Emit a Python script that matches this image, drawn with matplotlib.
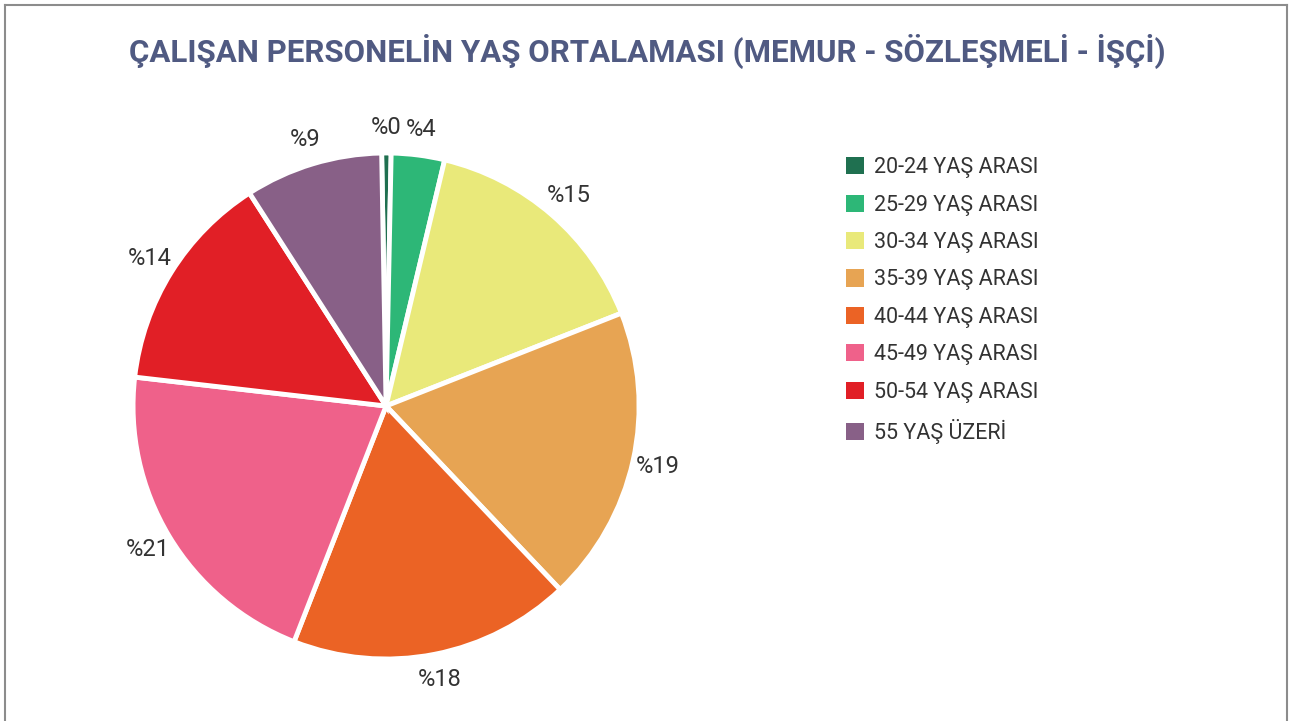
import matplotlib.pyplot as plt
from matplotlib.patches import Rectangle

plt.rcParams['font.family'] = ['Roboto', 'DejaVu Sans']

# data
age_groups = ["20-24 YAŞ ARASI", "25-29 YAŞ ARASI", "30-34 YAŞ ARASI", "35-39 YAŞ ARASI",
              "40-44 YAŞ ARASI", "45-49 YAŞ ARASI", "50-54 YAŞ ARASI", "55 YAŞ ÜZERİ"]
shares = [0.6, 3.4, 15.3, 18.9, 18.0, 20.9, 14.1, 8.8]
pct_labels = ["%0", "%4", "%15", "%19", "%18", "%21", "%14", "%9"]
colors = ["#1F7050", "#2DB777", "#E9E97A", "#E7A453",
          "#EB6325", "#EF618A", "#E11F26", "#886087"]

fig = plt.figure(figsize=(12.89, 7.21), dpi=100)

# thin grey frame (bottom edge cut off in the original)
fig.add_artist(plt.Line2D([0.004, 0.004], [0, 0.993], color="#8c8c8c", lw=1.5))
fig.add_artist(plt.Line2D([0.004, 0.9985], [0.993, 0.993], color="#8c8c8c", lw=1.5))
fig.add_artist(plt.Line2D([0.9985, 0.9985], [0, 0.993], color="#8c8c8c", lw=1.5))

fig.text(0.502, 0.928, "ÇALIŞAN PERSONELİN YAŞ ORTALAMASI (MEMUR - SÖZLEŞMELİ - İŞÇİ)",
         ha="center", va="center", fontsize=22.5, fontweight="bold", color="#505A82")

ax = fig.add_axes([0.1032, 0.086, 0.3926, 0.7018])
wedges, texts = ax.pie(
    shares, colors=colors, startangle=91, counterclock=False,
    labels=pct_labels, labeldistance=1.1,
    wedgeprops=dict(edgecolor="white", linewidth=3.5),
    textprops=dict(fontsize=17, color="#333333"))
for t in texts:
    t.set_ha("center")
ax.set_xlim(-1, 1)
ax.set_ylim(-1, 1)

handles = [Rectangle((0, 0), 1, 1, facecolor=c, edgecolor="none") for c in colors]
fig.legend(handles, age_groups, loc="upper left", bbox_to_anchor=(0.656, 0.782),
           frameon=False, fontsize=15.5, labelspacing=0.76, handlelength=0.85,
           handleheight=0.85, handletextpad=0.45, borderpad=0, borderaxespad=0,
           labelcolor="#333333")

fig.savefig("out.png", dpi=100)
